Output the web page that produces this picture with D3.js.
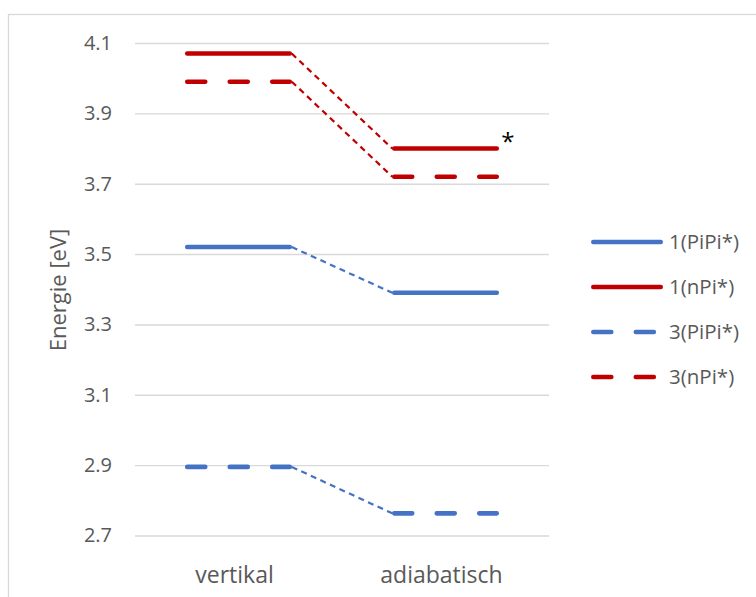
<!DOCTYPE html>
<html><head><meta charset="utf-8">
<script src="https://cdn.jsdelivr.net/npm/d3@7"></script>
<style>body{margin:0;background:#fff}svg{display:block}text{font-family:"Open Sans",sans-serif}</style>
</head><body>
<svg id="c" width="756" height="597"></svg>
<script>
const categories = ["vertikal", "adiabatisch"];
const seriesNames = ["1(PiPi*)", "1(nPi*)", "3(PiPi*)", "3(nPi*)"];
const valsPiPi1 = [3.52, 3.39];
const valsNPi1 = [4.07, 3.80];
const valsPiPi3 = [2.895, 2.763];
const valsNPi3 = [3.99, 3.72];
const yTicks = [2.7, 2.9, 3.1, 3.3, 3.5, 3.7, 3.9, 4.1];
const yTitle = "Energie [eV]";
const note = "*";

const series = [
  {name: seriesNames[0], values: valsPiPi1, color: "#4472C4", dashed: false},
  {name: seriesNames[1], values: valsNPi1, color: "#C00000", dashed: false},
  {name: seriesNames[2], values: valsPiPi3, color: "#4472C4", dashed: true},
  {name: seriesNames[3], values: valsNPi3, color: "#C00000", dashed: true}
];

const svg = d3.select("#c");
const gridCol = "#D9D9D9", textCol = "#595959";

// chart border (top/left visible)
svg.append("rect").attr("x", 8.5).attr("y", 14.5).attr("width", 800).attr("height", 700)
  .attr("fill", "none").attr("stroke", gridCol).attr("stroke-width", 1.3);

const x = d3.scaleBand().domain(categories).range([135, 549]).padding(0);
const y = d3.scaleLinear().domain([2.7, 4.1]).range([535.5, 43]);
const half = x.bandwidth() * 0.2476;
const cx = c => x(c) + x.bandwidth() / 2;

// gridlines + tick labels
const yAxis = d3.axisLeft(y).tickValues(yTicks).tickFormat(d3.format(".1f")).tickSize(-(549 - 135)).tickPadding(23);
const ga = svg.append("g").attr("transform", "translate(135,0)").call(yAxis);
ga.select(".domain").remove();
ga.selectAll(".tick line").attr("stroke", gridCol).attr("stroke-width", 1.4);
ga.selectAll(".tick text").attr("fill", textCol).attr("font-size", 20).attr("font-family", "Open Sans");

// x axis labels
const xAxis = d3.axisBottom(x).tickSize(0).tickPadding(0);
const gx = svg.append("g").attr("transform", "translate(0,583)").call(xAxis);
gx.select(".domain").remove();
gx.selectAll(".tick text").attr("fill", textCol).attr("font-size", 23).attr("font-family", "Open Sans")
  .attr("dy", 0).attr("y", 0).attr("dx", -4);

// y title
svg.append("text").attr("transform", `translate(66,290) rotate(-90)`).attr("text-anchor", "middle")
  .attr("fill", textCol).attr("font-size", 22).text(yTitle);

// connectors
series.forEach(s => {
  svg.append("line")
    .attr("x1", cx(categories[0]) + half + 2).attr("y1", y(s.values[0]))
    .attr("x2", cx(categories[1]) - half - 2).attr("y2", y(s.values[1]))
    .attr("stroke", s.color).attr("stroke-width", 2.2).attr("stroke-dasharray", "6,4.5");
});

// levels
series.forEach(s => {
  categories.forEach((c, i) => {
    svg.append("line")
      .attr("x1", cx(c) - half).attr("x2", cx(c) + half)
      .attr("y1", y(s.values[i])).attr("y2", y(s.values[i]))
      .attr("stroke", s.color).attr("stroke-width", 4.6).attr("stroke-linecap", "round")
      .attr("stroke-dasharray", s.dashed ? "18,24.5" : null);
  });
});

// note asterisk
svg.append("text").attr("x", cx(categories[1]) + half + 11).attr("y", y(valsNPi1[1]) + 1)
  .attr("text-anchor", "middle").attr("font-family", "DejaVu Sans")
  .attr("fill", "#000").attr("font-size", 24).text(note);

// legend
const lg = svg.append("g");
series.forEach((s, i) => {
  const ly = 242 + i * 45;
  lg.append("line").attr("x1", 593.3).attr("x2", 660.7).attr("y1", ly).attr("y2", ly)
    .attr("stroke", s.color).attr("stroke-width", 4.6).attr("stroke-linecap", "round")
    .attr("stroke-dasharray", s.dashed ? "18,24.5" : null);
  lg.append("text").attr("x", 669).attr("y", ly).attr("dy", "0.36em")
    .attr("fill", textCol).attr("font-size", 20.5).text(s.name);
});
</script>
</body></html>
